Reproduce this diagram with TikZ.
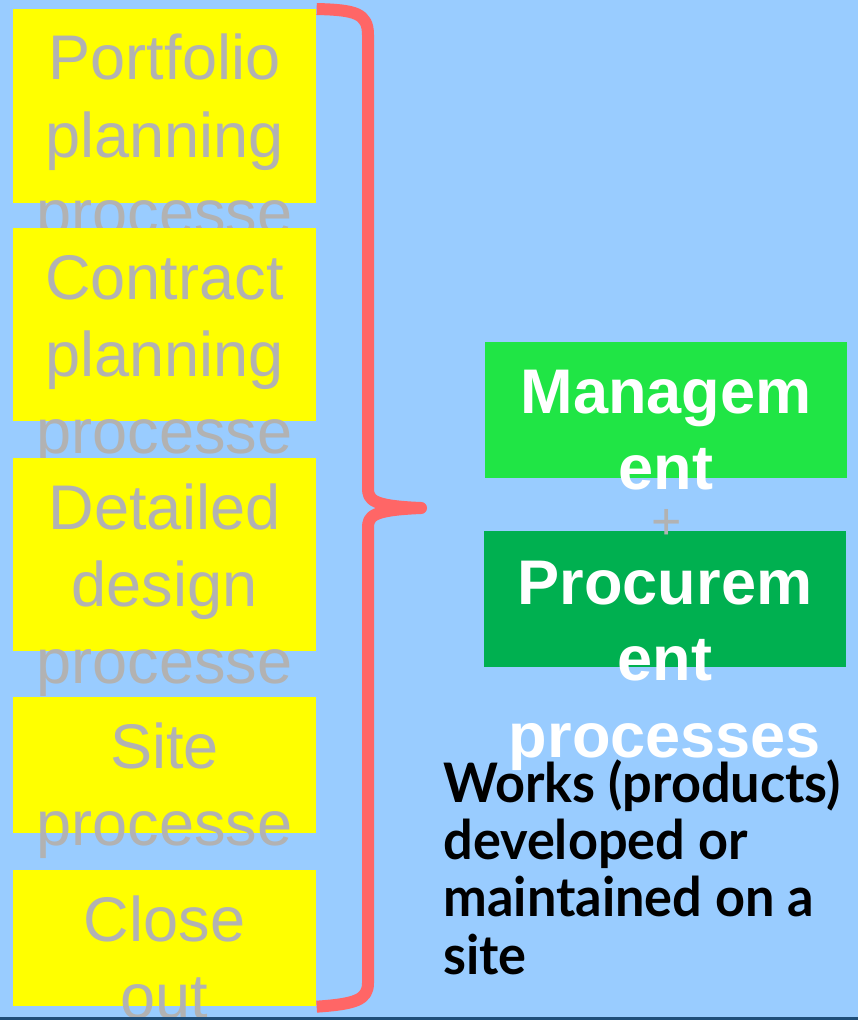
\documentclass[tikz,border=0pt]{standalone}
\usepackage{fontspec}
\setmainfont{Liberation Sans}
\newfontfamily\notefont{Lato}[FakeStretch=0.96]
\usetikzlibrary{calc}

\definecolor{sky}{HTML}{99CCFF}
\definecolor{stageyellow}{HTML}{FFFF00}
\definecolor{stagegray}{HTML}{B2B2B2}
\definecolor{bracered}{HTML}{FF6666}
\definecolor{mgmtgreen}{HTML}{20E545}
\definecolor{procgreen}{HTML}{00B050}
\definecolor{edgeblue}{HTML}{1F4E79}

\tikzset{
  stagebox/.style={fill=stageyellow, draw=none, inner sep=0, anchor=north west,
    minimum width=6.06cm},
  stagetext/.style={anchor=base, inner sep=0, text=stagegray,
    font=\fontsize{35.9}{44}\selectfont},
  procbox/.style={draw=none, inner sep=0, anchor=north west,
    minimum width=7.24cm, minimum height=2.72cm},
  proctext/.style={anchor=base, inner sep=0, text=white,
    font=\fontsize{35.9}{43.8}\selectfont\bfseries},
  plussign/.style={anchor=base, inner sep=0, text=stagegray,
    font=\fontsize{29.6}{30}\selectfont},
  notetext/.style={anchor=base west, inner sep=0, text=black,
    font=\fontsize{31}{32.3}\selectfont\notefont\bfseries},
  bracepath/.style={draw=bracered, line width=0.24cm, line join=round, line cap=butt},
}
\setlength{\tabcolsep}{0pt}

\begin{document}
\begin{tikzpicture}[x=0.02cm, y=-0.02cm]
  % canvas
  \useasboundingbox (0,0) rectangle (858,1020);
  \fill[sky] (0,0) rectangle (858,1020);

  % stages of the works, each text running over its box
  \node[stagebox, minimum height=3.88cm] (s1) at (13,9) {};
  \node[stagetext] (t1) at (164.5,80)
    {\begin{tabular}[t]{c}Portfolio\\planning\\processe\end{tabular}};
  \node[stagebox, minimum height=3.86cm] (s2) at (13,228) {};
  \node[stagetext] (t2) at (164.5,299)
    {\begin{tabular}[t]{c}Contract\\planning\\processe\end{tabular}};
  \node[stagebox, minimum height=3.86cm] (s3) at (13,458) {};
  \node[stagetext] (t3) at (164.5,529)
    {\begin{tabular}[t]{c}Detailed\\design\\processe\end{tabular}};
  \node[stagebox, minimum height=2.72cm] (s4) at (13,697) {};
  \node[stagetext] (t4) at (164.5,768)
    {\begin{tabular}[t]{c}Site\\processe\end{tabular}};
  \node[stagebox, minimum height=2.72cm] (s5) at (13,870) {};
  \node[stagetext] (t5) at (164.5,941)
    {\begin{tabular}[t]{c}Close\\out\end{tabular}};

  % curly brace gathering the stages
  \coordinate (btop) at (s1.north east);
  \coordinate (bbot) at (s5.south east);
  \coordinate (btip) at (421,508);
  \draw[bracepath] (btop)
      .. controls (355,10) and (368,13) .. (368,35)
      -- (368,488)
      .. controls (368,500) and (372,506) .. (btip)
      .. controls (372,510) and (368,516) .. (368,528)
      -- (368,983)
      .. controls (368,1000) and (355,1004) .. (bbot);

  % management and procurement
  \node[procbox, fill=mgmtgreen] (mg) at (485,342) {};
  \node[proctext] (mgt) at (666,413)
    {\begin{tabular}[t]{c}Managem\\ent\end{tabular}};
  \node[procbox, fill=procgreen] (pc) at (484,531) {};
  \node[proctext] (pct) at (665,604)
    {\begin{tabular}[t]{c}Procurem\\ent\\processes\end{tabular}};
  \node[plussign] (plus) at (667,539) {+};

  % note on the works
  \node[notetext] (note) at (443,802)
    {\begin{tabular}[t]{l}Works (products)\\developed or\\maintained on a\\site\end{tabular}};

  % bottom edge
  \fill[edgeblue] (0,1017) rectangle (858,1020);
\end{tikzpicture}
\end{document}
